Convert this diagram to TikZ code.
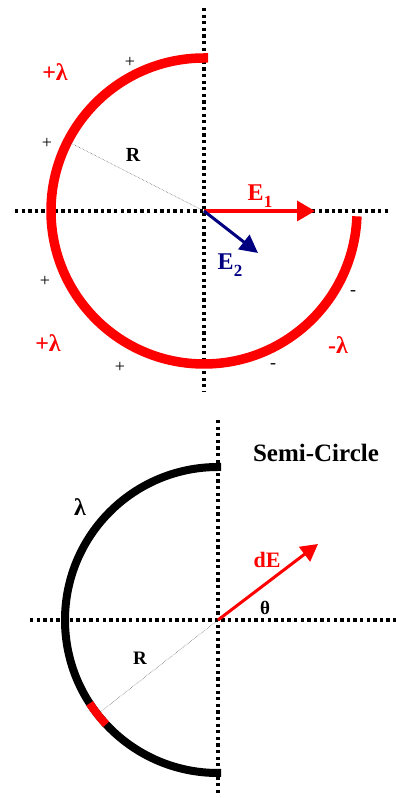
\documentclass[tikz,border=0pt]{standalone}
\usepackage{fontspec}
\setmainfont{Liberation Serif}
\usetikzlibrary{arrows.meta,calc}
\definecolor{navyblue}{RGB}{0,0,128}
\newcommand\mysub[1]{\raisebox{-0.3em}{\fontsize{17}{17}\selectfont #1}}
\tikzset{
  axis/.style={line width=3.3pt, dash pattern=on 3.3pt off 3.3pt},
  radline/.style={line width=0.5pt, densely dotted, black!70},
  lbl/.style={font=\bfseries\fontsize{24}{24}\selectfont, inner sep=0pt},
  sign/.style={font=\fontsize{18}{18}\selectfont, inner sep=0pt},
}
\begin{document}
\begin{tikzpicture}[x=1pt,y=1pt]
\useasboundingbox (0,0) rectangle (396,798);
% ---------- top figure ----------
\coordinate (c1) at (204,587);
\coordinate (v1t) at (204,790);
\coordinate (v1b) at (204,406);
\coordinate (h1l) at (15,587);
\coordinate (h1r) at (390,587);
\draw[axis] (v1t) -- (v1b);
\draw[axis] (h1l) -- (h1r);
\draw[red, line width=9.5pt] (208,740) -- (204,740) arc[start angle=90, end angle=358, radius=153];
\coordinate (r1) at (67.7,656.5);
\draw[radline] (c1) -- (r1);
\coordinate (e1) at (315,587);
\coordinate (e2) at (258,545);
\draw[red, line width=3.4pt, -{Triangle[length=18pt,width=20pt]}] (c1) -- (e1);
\draw[navyblue, line width=3pt, -{Triangle[length=18pt,width=18pt]}] (c1) -- (e2);
\node[lbl, red] (E1) at (260,602) {E\mysub{1}};
\node[lbl, navyblue] (E2) at (230,533) {E\mysub{2}};
\node[lbl, font=\bfseries\fontsize{20}{20}\selectfont] (R1) at (133,643) {R};
\node[sign] (p1) at (130,736) {+};
\node[sign] (p2) at (47,655) {+};
\node[sign] (p3) at (45,517) {+};
\node[sign] (p4) at (120,431) {+};
\node[sign] (m1) at (353,505) {-};
\node[sign] (m2) at (273,432) {-};
\node[lbl, red] (l1) at (55,726) {+λ};
\node[lbl, red] (l2) at (48,455) {+λ};
\node[lbl, red] (l3) at (338,453) {-λ};
% ---------- bottom figure ----------
\coordinate (c2) at (218,178);
\coordinate (v2t) at (218,378);
\coordinate (v2b) at (218,3);
\coordinate (h2l) at (30,178);
\coordinate (h2r) at (396,178);
\draw[axis] (v2t) -- (v2b);
\draw[axis] (h2l) -- (h2r);
\draw[black, line width=8pt] (221,331) -- (218,331) arc[start angle=90, end angle=270, radius=153] -- (221,25);
\draw[red, line width=8pt] ($(c2)+(213:153)$) arc[start angle=213, end angle=223, radius=153];
\coordinate (r2) at ($(c2)+(218:150)$);
\draw[radline] (c2) -- (r2);
\coordinate (de) at (318,254);
\draw[red, line width=3pt, -{Triangle[length=17pt,width=18pt]}] (c2) -- (de);
\node[lbl, font=\bfseries\fontsize{19}{19}\selectfont] (R2) at (140,140) {R};
\node[lbl, font=\bfseries\fontsize{24}{24}\selectfont] (lam) at (80,291) {λ};
\node[lbl, red, font=\bfseries\fontsize{22}{22}\selectfont] (dE) at (267,238) {dE};
\node[lbl, font=\bfseries\fontsize{19}{19}\selectfont] (th) at (265,190) {θ};
\node[lbl, font=\bfseries\fontsize{25}{25}\selectfont] (sc) at (316,345) {Semi-Circle};
\end{tikzpicture}
\end{document}
